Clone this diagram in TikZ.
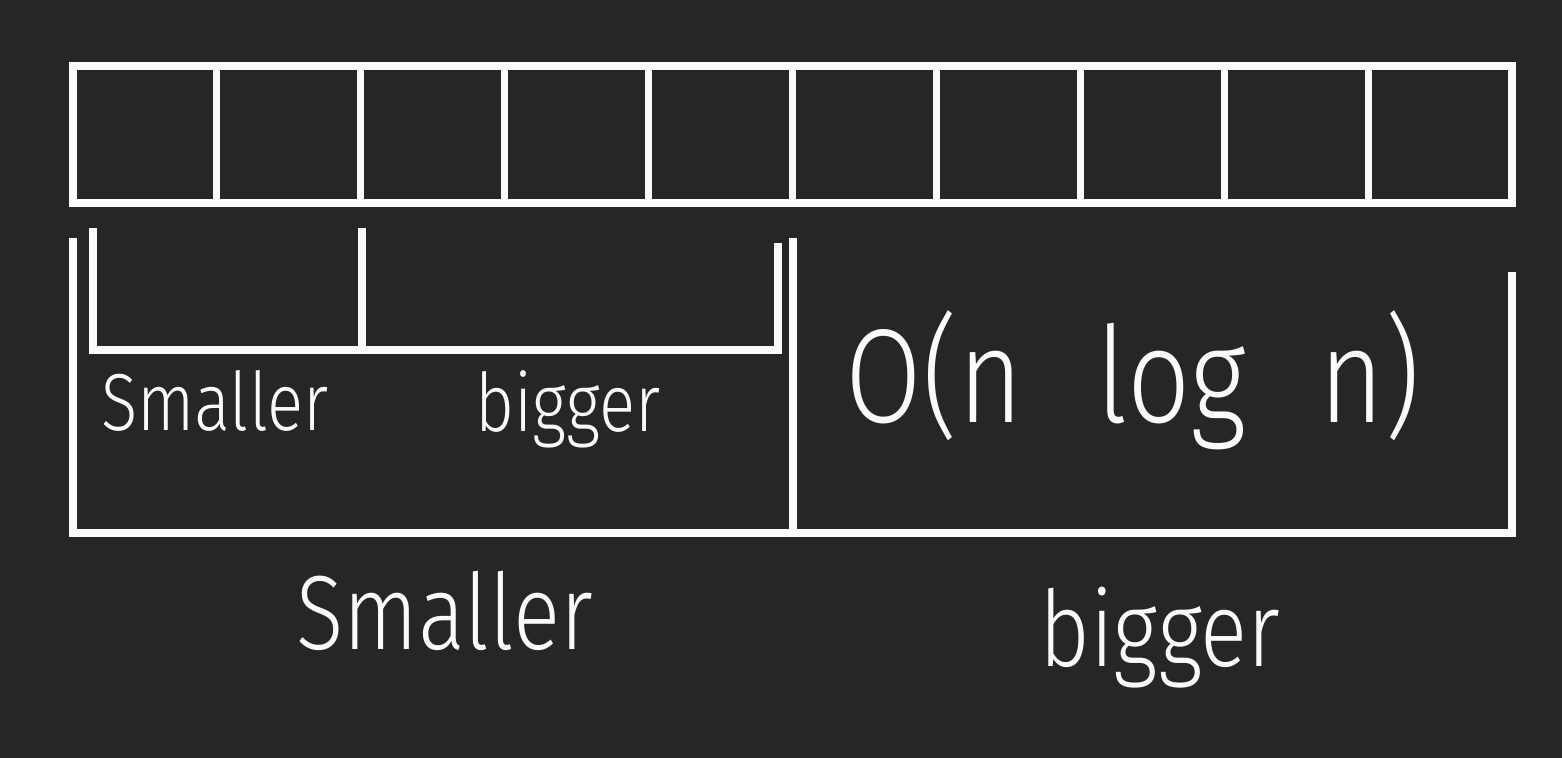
\documentclass[tikz,border=0pt]{standalone}
\usepackage{fontspec}
\setmainfont{Fira Sans Light}
\newfontfamily\chalkfont[FakeStretch=0.83]{Fira Sans Light}
\definecolor{board}{RGB}{38,38,38}
\definecolor{chalk}{RGB}{250,250,250}
\tikzset{
    chalk line/.style={draw=chalk, line width=2pt},
    chalk text/.style={text=chalk, inner sep=0pt, anchor=base}
}
\begin{document}
\begin{tikzpicture}[x=0.01cm, y=-0.01cm]
    % board
    \fill[board] (0,0) rectangle (1562,758);
    \useasboundingbox (0,0) rectangle (1562,758);
    % array
    \draw[chalk line] (73,66) rectangle (1512,203);
    \foreach \i in {1,...,9}{
        \draw[chalk line] (73+143.9*\i,66) -- ++(0,137);
    }
    % first split
    \draw[chalk line] (73,238) -- (73,533) -- (1512,533) -- (1512,272);
    \draw[chalk line] (793,238) -- (793,533);
    % second split
    \draw[chalk line] (93,228) -- (93,350) -- (778,350) -- (778,243);
    \draw[chalk line] (362,228) -- (362,350);
    % labels
    \node[chalk text, font=\chalkfont\fontsize{23}{23}\selectfont] (smallA) at (215,431) {Smaller};
    \node[chalk text, font=\chalkfont\fontsize{23}{23}\selectfont] (bigA) at (568,432) {bigger};
    \node[chalk text, font=\chalkfont\fontsize{38}{38}\selectfont] (cost) at (1133,423) {O(n\hspace{0.55em}log\hspace{0.55em}n)};
    \node[chalk text, font=\chalkfont\fontsize{30}{30}\selectfont] (smallB) at (445,650) {Smaller};
    \node[chalk text, font=\chalkfont\fontsize{30}{30}\selectfont] (bigB) at (1160,667) {bigger};
\end{tikzpicture}
\end{document}
